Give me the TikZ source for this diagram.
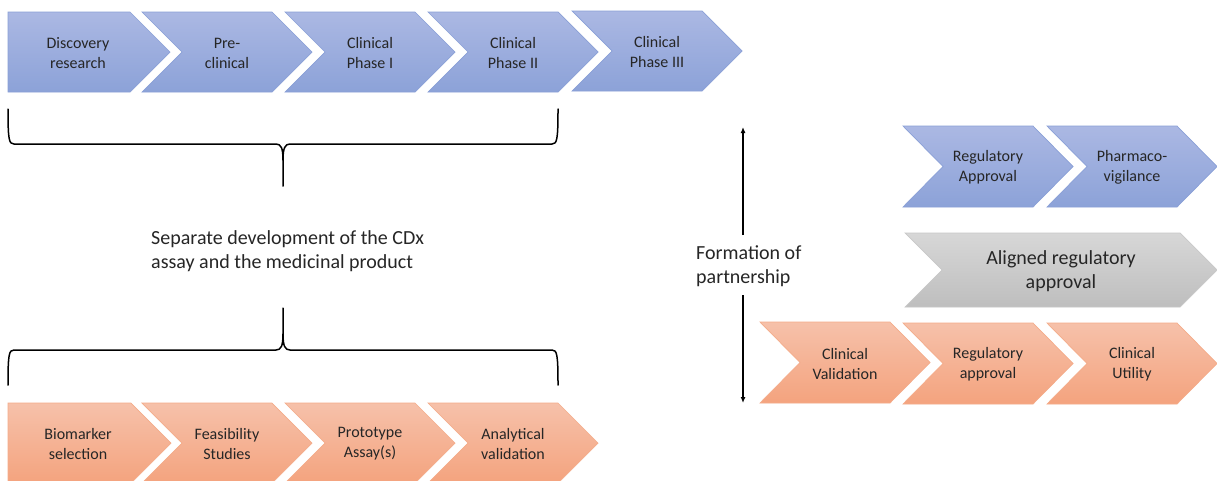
\documentclass[tikz,border=0pt]{standalone}
\usepackage{fontspec}
\setmainfont{Carlito}
\usetikzlibrary{arrows.meta}
\definecolor{bluetop}{RGB}{171,184,227}
\definecolor{bluebot}{RGB}{140,162,216}
\definecolor{blueedge}{RGB}{138,160,215}
\definecolor{orgtop}{RGB}{246,193,170}
\definecolor{orgbot}{RGB}{244,163,126}
\definecolor{orgedge}{RGB}{244,172,138}
\definecolor{graytop}{RGB}{215,215,215}
\definecolor{graybot}{RGB}{190,190,190}
\definecolor{grayedge}{RGB}{200,200,200}
\definecolor{txt}{RGB}{38,38,38}
\tikzset{
  bluefill/.style={top color=bluetop, bottom color=bluebot, draw=blueedge, line width=0.7pt},
  orgfill/.style={top color=orgtop, bottom color=orgbot, draw=orgedge, line width=0.7pt},
  grayfill/.style={top color=graytop, bottom color=graybot, draw=grayedge, line width=0.7pt},
  lbl/.style={align=center, inner sep=0pt, text=txt, font=\fontsize{16}{20}\selectfont},
  biglbl/.style={inner sep=0pt, text=txt, font=\fontsize{20}{24}\selectfont},
  bracestyle/.style={line width=1.5pt, line join=round, line cap=round},
  vline/.style={line width=1.2pt, -{Latex[length=6pt,width=5pt]}}
}
% notched chevron: style, x, y, w, d, h, name, text
\newcommand\mychev[8]{%
  \path[#1] (#2,#3) -- ++(#4,0) -- ++(#5,#6/2) -- ++(-#5,#6/2) -- ++(-#4,0) -- ++(#5,-#6/2) -- cycle;
  \node[lbl] (#7) at ({#2+#5+(#4-#5)/2},{#3+#6/2+1}) {#8};}
% flat-left chevron: style, x, y, w, d, h, name, textx, text
\newcommand\myhome[9]{%
  \path[#1] (#2,#3) -- ++(#4,0) -- ++(#5,#6/2) -- ++(-#5,#6/2) -- ++(-#4,0) -- cycle;
  \node[lbl] (#7) at (#8,{#3+#6/2+1}) {#9};}
\begin{document}
\begin{tikzpicture}[x=1pt,y=-1pt]
\useasboundingbox[fill=white] (0,0) rectangle (1217,480);
% top row (medicinal product)
\myhome{bluefill}{8}{12}{122}{40}{80}{disc}{78}{Discovery\\research}
\mychev{bluefill}{142}{12}{130}{40}{80}{prec}{Pre-\\clinical}
\mychev{bluefill}{285}{12}{130}{40}{80}{ph1}{Clinical\\Phase I}
\mychev{bluefill}{428}{12}{130}{40}{80}{ph2}{Clinical\\Phase II}
\mychev{bluefill}{572}{11}{130}{40}{80}{ph3}{Clinical\\Phase III}
% bottom row (CDx)
\myhome{orgfill}{8}{403}{123}{40}{80}{bio}{78}{Biomarker\\selection}
\mychev{orgfill}{142}{403}{130}{40}{80}{feas}{Feasibility\\Studies}
\mychev{orgfill}{285}{403}{130}{40}{80}{proto}{Prototype\\Assay(s)}
\mychev{orgfill}{428}{403}{130}{40}{80}{anal}{Analytical\\validation}
% braces
\draw[bracestyle] (8,109) .. controls (8,140) and (9,144) .. (14,144) -- (276,144)
  .. controls (281,144) and (283,148) .. (283,160) -- (283,186);
\draw[bracestyle] (283,160) .. controls (283,148) and (285,144) .. (290,144) -- (552,144)
  .. controls (557,144) and (558,140) .. (558,109);
\draw[bracestyle] (8,385) .. controls (8,354) and (9,350) .. (14,350) -- (276,350)
  .. controls (281,350) and (283,346) .. (283,334) -- (283,308);
\draw[bracestyle] (283,334) .. controls (283,346) and (285,350) .. (290,350) -- (552,350)
  .. controls (557,350) and (558,354) .. (558,385);
\node[biglbl, align=left, anchor=west] (sep) at (151,251) {Separate development of the CDx\\assay and the medicinal product};
% right side
\mychev{bluefill}{903}{126}{130}{40}{81}{regA}{Regulatory\\Approval}
\mychev{bluefill}{1047}{126}{130}{40}{81}{pharm}{Pharmaco-\\vigilance}
\path[grayfill] (905,233) -- (1180,233) -- (1217,270) -- (1180,307) -- (905,307) -- (942,270) -- cycle;
\node[biglbl, align=center] (align) at (1061,271) {Aligned regulatory\\approval};
\mychev{orgfill}{760}{322}{130}{40}{81}{cval}{Clinical\\Validation}
\mychev{orgfill}{903}{323}{130}{40}{81}{rega}{Regulatory\\approval}
\mychev{orgfill}{1047}{323}{130}{40}{81}{cutil}{Clinical\\Utility}
\node[biglbl, align=left, anchor=west] (form) at (696,266) {Formation of\\partnership};
\coordinate (aupS) at (743,235);
\coordinate (aupE) at (743,127);
\coordinate (adnS) at (743,295);
\coordinate (adnE) at (743,403);
\draw[vline] (aupS) -- (aupE);
\draw[vline] (adnS) -- (adnE);
\end{tikzpicture}
\end{document}
